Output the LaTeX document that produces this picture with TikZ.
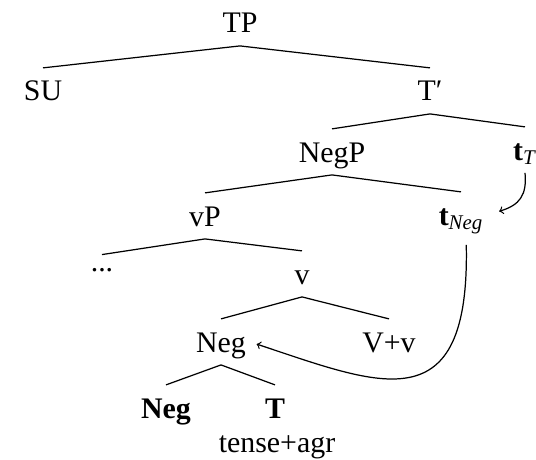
\documentclass[tikz,border=0pt]{standalone}
\usepackage{fontspec}
\setmainfont{Liberation Serif}
\usepackage{tikz}

\begin{document}
\begin{tikzpicture}[x=0.02cm, y=-0.02cm, line width=0.7pt,
	every node/.style={anchor=base, inner xsep=2pt, inner ysep=7pt, text height=11.5pt, text depth=0pt, font=\fontsize{17}{20}\selectfont}]
	\useasboundingbox (0,0) rectangle (536,459);
	\node (TP) at (240,33) {TP};
	\node (SU) at (43,101) {SU};
	\node (Tb) at (430,101) {T′};
	\node (NP) at (332,162) {NegP};
	\node (tT) at (525,160) {\textbf{t}\textsubscript{\textit{T}}};
	\node (vP) at (205,226) {vP};
	\node[text height=2pt] (D) at (102,271) {...};
	\node (v) at (302,284) {v};
	\node (tN) at (461,225) {\textbf{t}\textsubscript{\textit{Neg}}};
	\node (N) at (221,352) {Neg};
	\node (V) at (389,352) {V+v};
	\node (N1) at (166,418) {\textbf{Neg}};
	\node (T1) at (275,418) {\textbf{T}};
	\node (G) at (277,452) {tense+agr};
%
	\draw (TP.south) -- (SU.north);
	\draw (TP.south) -- (Tb.north);
	\draw (Tb.south) -- (NP.north);
	\draw (Tb.south) -- (tT.north);
	\draw (NP.south) -- (vP.north);
	\draw (NP.south) -- (tN.north);
	\draw (vP.south) -- (D.north);
	\draw (vP.south) -- (v.north);
	\draw (v.south) -- (N.north);
	\draw (v.south) -- (V.north);
	\draw (N.south) -- (N1.north);
	\draw (N.south) -- (T1.north);
	\draw[->, shorten >=7pt] (tT.south) .. controls (527,195) and (520,205) .. (tN.east);
	\draw[->, shorten >=4pt] ([xshift=3pt, yshift=-4pt]tN.south) .. controls (470,425) and (380,385) .. (N.east);
\end{tikzpicture}
\end{document}
